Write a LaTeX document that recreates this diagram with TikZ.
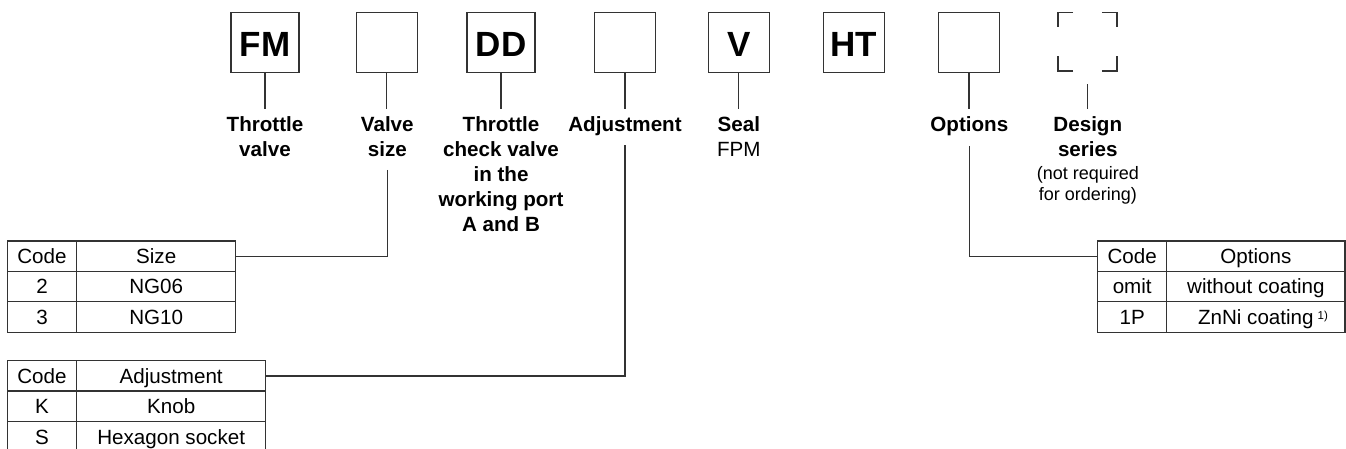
\documentclass[tikz,border=0pt]{standalone}
\usepackage{fontspec}
\setmainfont{Liberation Sans}
\usetikzlibrary{matrix}
\begin{document}
\begin{tikzpicture}[x=1pt,y=-1pt,
  codebox/.style={draw=black!80, line width=1.3pt, minimum height=60.2pt, inner sep=0pt,
    font=\fontsize{35}{35}\selectfont\bfseries, text height=28pt, text depth=0pt},
  wide/.style={codebox, minimum width=68pt},
  narrow/.style={codebox, minimum width=61pt},
  conn/.style={draw=black!80, line width=1.3pt},
  brk/.style={draw=black!80, line width=1.3pt},
  lab/.style={anchor=north, inner sep=0pt, align=center,
    font=\fontsize{20.6}{25}\selectfont\bfseries},
  note/.style={anchor=north, inner sep=0pt, align=center,
    font=\fontsize{18}{21.5}\selectfont},
  tab/.style={matrix of nodes, anchor=north west, inner sep=0pt, outer sep=0pt,
    column sep=-1.3pt, row sep=-1.3pt,
    nodes={draw=black!80, line width=1.3pt, minimum height=30.4pt, inner sep=0pt,
      anchor=center, text height=14.75pt, text depth=0pt,
      font=\fontsize{20.6}{25}\selectfont}}
]
\useasboundingbox (0,0) rectangle (1346,449);

% code boxes
\node[wide]   (fm)  at (265,42.6)   {FM};
\node[narrow] (vsz) at (386.7,42.6) {};
\node[wide]   (dd)  at (501,42.6)   {DD};
\node[narrow] (adj) at (625,42.6)   {};
\node[narrow] (sl)  at (738.8,42.6) {V};
\node[narrow] (ht)  at (853.7,42.6) {HT};
\node[narrow] (opt) at (969,42.6)   {};
\node[minimum width=58.4pt, minimum height=58.5pt, inner sep=0pt] (des) at (1087.5,41.7) {};

% dashed bracket corners of design series
\draw[brk] ([xshift=15pt]des.north west) -| ([yshift=-15pt]des.north west);
\draw[brk] ([xshift=-15pt]des.north east) -| ([yshift=-15pt]des.north east);
\draw[brk] ([xshift=15pt]des.south west) -| ([yshift=15pt]des.south west);
\draw[brk] ([xshift=-15pt]des.south east) -| ([yshift=15pt]des.south east);

% short connectors from boxes to labels
\coordinate (lt) at (0,109.3);
\draw[conn] (fm.south)  -- (fm.south |- lt);
\draw[conn] (vsz.south) -- (vsz.south |- lt);
\draw[conn] (dd.south)  -- (dd.south |- lt);
\draw[conn] (adj.south) -- (adj.south |- lt);
\draw[conn] (sl.south)  -- (sl.south |- lt);
\draw[conn] (opt.south) -- (opt.south |- lt);
\draw[conn] ([yshift=-13pt]des.south) -- (des.south |- lt);

% labels
\node[lab] (lfm)  at (265,116.7)   {Throttle\\valve};
\node[lab] (lvsz) at (387.3,116.7) {Valve\\size};
\node[lab] (ldd)  at (501,116.7)   {Throttle\\check valve\\in the\\working port\\A and B};
\node[lab] (ladj) at (625,116.7)   {Adjustment};
\node[lab] (lsl)  at (738.8,116.7) {Seal\\\mdseries FPM};
\node[lab] (lopt) at (969.3,116.7) {Options};
\node[lab] (ldes) at (1087.8,116.7) {Design\\series};
\node[note] (ldesn) at (1087.8,165.9) {(not required\\for ordering)};

% tables
\matrix[tab, column 1/.style={nodes={minimum width=69.4pt}},
  column 2/.style={nodes={minimum width=159pt}}] (st) at (6.65,240.35)
{ Code & Size \\ 2 & NG06 \\ 3 & NG10 \\ };

\matrix[tab, column 1/.style={nodes={minimum width=69.4pt}},
  column 2/.style={nodes={minimum width=189pt}}] (at) at (6.65,360.05)
{ Code & Adjustment \\ K & Knob \\ S & Hexagon socket \\ };

\matrix[tab, column 1/.style={nodes={minimum width=69pt}},
  column 2/.style={nodes={minimum width=178.3pt}}] (ot) at (1097.05,240.35)
{ Code & Options \\ omit & without coating \\
  1P & ZnNi coating\rlap{\hspace{4pt}\raisebox{4.5pt}{\fontsize{11.5}{12}\selectfont 1)}} \\ };

% long connectors to tables
\coordinate (vsd)  at (387.3,170);
\coordinate (adjd) at (625,145.5);
\coordinate (optd) at (969.3,146);
\draw[conn] (vsd)  |- (st-1-2.east);
\draw[conn] (adjd) |- (at-1-2.east);
\draw[conn] (optd) |- (ot-1-1.west);
\end{tikzpicture}
\end{document}
